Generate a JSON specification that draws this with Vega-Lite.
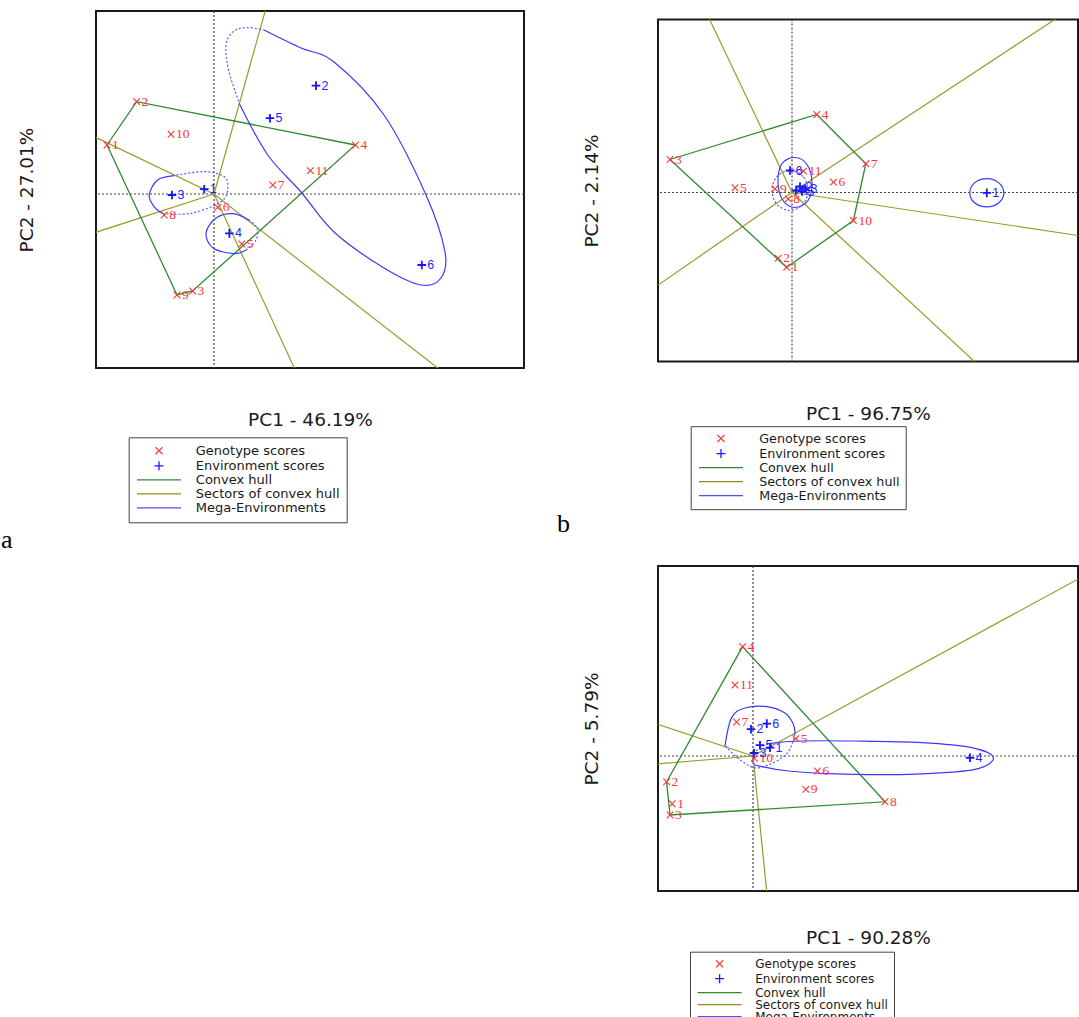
{
"$schema":"https://vega.github.io/schema/vega-lite/v6.json",
"padding":{"left":0,"top":7,"right":0,"bottom":0},
"background":"white",
"config":{
 "view":{"stroke":"#1a1a1a","strokeWidth":2},
 "axis":{"labels":false,"ticks":false,"domain":false,"grid":false,"titleFont":"DejaVu Sans","titleFontSize":18.5,"titleFontWeight":"normal","titleColor":"#1a1a1a"},
 "axisX":{"titlePadding":44},
 "axisY":{"titlePadding":57},
 "legend":{"strokeColor":"#444444","strokeWidth":1,"symbolSize":100,"symbolStrokeWidth":1.3,"labelFont":"DejaVu Sans","labelColor":"#1a1a1a","symbolOpacity":1,"direction":"vertical","labelLimit":300,"rowPadding":0}
},
"spacing":31,
"resolve":{"scale":{"x":"independent","y":"independent","color":"independent","shape":"independent"},"legend":{"color":"independent","shape":"independent"}},
"hconcat":[
{
"width":428,"height":357,
"title":{"text":"a","orient":"bottom","anchor":"start","frame":"group","dx":-95,"offset":25,"font":"Liberation Serif","fontSize":26,"fontWeight":"normal","color":"#000000","baseline":"alphabetic"},
"layer":[
{"data":{"values":[{"x":0}]},"mark":{"type":"rule","color":"#444444","strokeDash":[2,2],"strokeWidth":1.2},"encoding":{"x":{"field":"x","type":"quantitative","scale":{"domain":[-5.9,15.5],"nice":false,"zero":false},"title":"PC1 - 46.19%","axis":{"titlePadding":42}}}},
{"data":{"values":[{"y":0}]},"mark":{"type":"rule","color":"#444444","strokeDash":[2,2],"strokeWidth":1.2},"encoding":{"y":{"field":"y","type":"quantitative","scale":{"domain":[-8.7,9.15],"nice":false,"zero":false},"title":"PC2 - 27.01%","axis":{"titlePadding":60}}}},
{"data":{"values":[{"s":1,"i":0,"x":0,"y":0},{"s":1,"i":1,"x":2.8,"y":10.0},{"s":2,"i":0,"x":0,"y":0},{"s":2,"i":1,"x":-6.2,"y":2.97},{"s":3,"i":0,"x":0,"y":0},{"s":3,"i":1,"x":-6.2,"y":-2.01},{"s":4,"i":0,"x":0,"y":0},{"s":4,"i":1,"x":4.2,"y":-9.1},{"s":5,"i":0,"x":0,"y":0},{"s":5,"i":1,"x":11.7,"y":-9.1}]},
 "mark":{"type":"line","color":"#9a9a2a","strokeWidth":1.2,"clip":true},
 "encoding":{"x":{"field":"x","type":"quantitative","scale":{"domain":[-5.9,15.5],"nice":false,"zero":false},"title":"PC1 - 46.19%"},"y":{"field":"y","type":"quantitative","scale":{"domain":[-8.7,9.15],"nice":false,"zero":false},"title":"PC2 - 27.01%"},"detail":{"field":"s"},"order":{"field":"i","type":"quantitative"}}},
{"data":{"values":[{"i":1,"x":-5.35,"y":2.45},{"i":2,"x":-3.87,"y":4.62},{"i":3,"x":7.07,"y":2.45},{"i":4,"x":-1.07,"y":-4.85},{"i":5,"x":-1.85,"y":-5.05},{"i":6,"x":-5.35,"y":2.45}]},
 "mark":{"type":"line","color":"#2e8b2e","strokeWidth":1.3,"clip":true},
 "encoding":{"x":{"field":"x","type":"quantitative","scale":{"domain":[-5.9,15.5],"nice":false,"zero":false},"title":"PC1 - 46.19%"},"y":{"field":"y","type":"quantitative","scale":{"domain":[-8.7,9.15],"nice":false,"zero":false},"title":"PC2 - 27.01%"},"order":{"field":"i","type":"quantitative"}}},
{"data":{"values":[
 {"arc":"A1","i":1,"x":2.5,"y":8.2},{"arc":"A1","i":2,"x":4.35,"y":7.3},{"arc":"A1","i":3,"x":6.0,"y":6.6},{"arc":"A1","i":4,"x":8.5,"y":3.95},{"arc":"A1","i":5,"x":10.6,"y":-0.05},{"arc":"A1","i":6,"x":11.55,"y":-2.9},{"arc":"A1","i":7,"x":11.35,"y":-4.2},{"arc":"A1","i":8,"x":10.35,"y":-4.55},{"arc":"A1","i":9,"x":8.5,"y":-3.7},{"arc":"A1","i":10,"x":6.0,"y":-1.9},{"arc":"A1","i":11,"x":4.35,"y":0.1},{"arc":"A1","i":12,"x":2.69,"y":1.95},{"arc":"A1","i":13,"x":1.3,"y":4.45},
 {"arc":"A2","i":1,"x":-1.99,"y":0.92},{"arc":"A2","i":2,"x":-2.82,"y":0.7},{"arc":"A2","i":3,"x":-3.24,"y":-0.05},{"arc":"A2","i":4,"x":-2.99,"y":-0.64},{"arc":"A2","i":5,"x":-2.57,"y":-0.97},
 {"arc":"A3","i":1,"x":1.75,"y":-1.3},{"arc":"A3","i":2,"x":0.95,"y":-0.98},{"arc":"A3","i":3,"x":0.1,"y":-1.2},{"arc":"A3","i":4,"x":-0.4,"y":-1.95},{"arc":"A3","i":5,"x":-0.05,"y":-2.7},{"arc":"A3","i":6,"x":1.0,"y":-2.98},{"arc":"A3","i":7,"x":1.6,"y":-2.8}]},
 "mark":{"type":"line","interpolate":"cardinal","color":"#3a3aff","strokeWidth":1.2,"clip":true},
 "encoding":{"x":{"field":"x","type":"quantitative","scale":{"domain":[-5.9,15.5],"nice":false,"zero":false},"title":"PC1 - 46.19%"},"y":{"field":"y","type":"quantitative","scale":{"domain":[-8.7,9.15],"nice":false,"zero":false},"title":"PC2 - 27.01%"},"detail":{"field":"arc"},"order":{"field":"i","type":"quantitative"}}},
{"data":{"values":[
 {"arc":"D1","i":1,"x":1.3,"y":4.45},{"arc":"D1","i":2,"x":0.75,"y":6.12},{"arc":"D1","i":3,"x":0.6,"y":7.45},{"arc":"D1","i":4,"x":1.0,"y":8.15},{"arc":"D1","i":5,"x":1.69,"y":8.32},{"arc":"D1","i":6,"x":2.5,"y":8.2},
 {"arc":"D2","i":1,"x":-2.57,"y":-0.97},{"arc":"D2","i":2,"x":-1.15,"y":-0.97},{"arc":"D2","i":3,"x":0.35,"y":-0.39},{"arc":"D2","i":4,"x":0.69,"y":0.29},{"arc":"D2","i":5,"x":0.5,"y":0.87},{"arc":"D2","i":6,"x":-0.49,"y":1.12},{"arc":"D2","i":7,"x":-1.99,"y":0.92},
 {"arc":"D3","i":1,"x":1.6,"y":-2.8},{"arc":"D3","i":2,"x":2.1,"y":-2.3},{"arc":"D3","i":3,"x":2.15,"y":-1.7},{"arc":"D3","i":4,"x":1.75,"y":-1.3}]},
 "mark":{"type":"line","interpolate":"cardinal","color":"#5a5aff","strokeWidth":1.2,"strokeDash":[2,2],"clip":true},
 "encoding":{"x":{"field":"x","type":"quantitative","scale":{"domain":[-5.9,15.5],"nice":false,"zero":false},"title":"PC1 - 46.19%"},"y":{"field":"y","type":"quantitative","scale":{"domain":[-8.7,9.15],"nice":false,"zero":false},"title":"PC2 - 27.01%"},"detail":{"field":"arc"},"order":{"field":"i","type":"quantitative"}}},
{"data":{"values":[{"g":"1","x":-5.35,"y":2.45},{"g":"2","x":-3.87,"y":4.62},{"g":"3","x":-1.07,"y":-4.85},{"g":"4","x":7.07,"y":2.45},{"g":"5","x":1.39,"y":-2.5},{"g":"6","x":0.19,"y":-0.67},{"g":"7","x":2.94,"y":0.45},{"g":"8","x":-2.49,"y":-1.05},{"g":"9","x":-1.85,"y":-5.05},{"g":"10","x":-2.15,"y":2.99},{"g":"11","x":4.82,"y":1.17}]},
 "mark":{"type":"point","shape":"M-1,-1L1,1M-1,1L1,-1","size":44,"filled":false,"color":"#ff3333","strokeWidth":1.1,"opacity":1,"clip":true},
 "encoding":{"x":{"field":"x","type":"quantitative","scale":{"domain":[-5.9,15.5],"nice":false,"zero":false},"title":"PC1 - 46.19%"},"y":{"field":"y","type":"quantitative","scale":{"domain":[-8.7,9.15],"nice":false,"zero":false},"title":"PC2 - 27.01%"}}},
{"data":{"values":[{"g":"1","x":-5.35,"y":2.45},{"g":"2","x":-3.87,"y":4.62},{"g":"3","x":-1.07,"y":-4.85},{"g":"4","x":7.07,"y":2.45},{"g":"5","x":1.39,"y":-2.5},{"g":"6","x":0.19,"y":-0.67},{"g":"7","x":2.94,"y":0.45},{"g":"8","x":-2.49,"y":-1.05},{"g":"9","x":-1.85,"y":-5.05},{"g":"10","x":-2.15,"y":2.99},{"g":"11","x":4.82,"y":1.17}]},
 "mark":{"type":"text","align":"left","baseline":"middle","dx":5,"font":"Liberation Serif","fontSize":13.5,"color":"#ff3333"},
 "encoding":{"x":{"field":"x","type":"quantitative","scale":{"domain":[-5.9,15.5],"nice":false,"zero":false},"title":"PC1 - 46.19%"},"y":{"field":"y","type":"quantitative","scale":{"domain":[-8.7,9.15],"nice":false,"zero":false},"title":"PC2 - 27.01%"},"text":{"field":"g"}}},
{"data":{"values":[{"e":"1","x":-0.49,"y":0.24},{"e":"2","x":5.1,"y":5.42},{"e":"3","x":-2.1,"y":-0.05},{"e":"4","x":0.77,"y":-1.97},{"e":"5","x":2.8,"y":3.79},{"e":"6","x":10.39,"y":-3.55}]},
 "mark":{"type":"point","shape":"M-1,0L1,0M0,-1L0,1","size":74,"filled":false,"color":"#1414ff","strokeWidth":1.8,"opacity":1,"clip":true},
 "encoding":{"x":{"field":"x","type":"quantitative","scale":{"domain":[-5.9,15.5],"nice":false,"zero":false},"title":"PC1 - 46.19%"},"y":{"field":"y","type":"quantitative","scale":{"domain":[-8.7,9.15],"nice":false,"zero":false},"title":"PC2 - 27.01%"}}},
{"data":{"values":[{"e":"1","x":-0.49,"y":0.24},{"e":"2","x":5.1,"y":5.42},{"e":"3","x":-2.1,"y":-0.05},{"e":"4","x":0.77,"y":-1.97},{"e":"5","x":2.8,"y":3.79},{"e":"6","x":10.39,"y":-3.55}]},
 "mark":{"type":"text","align":"left","baseline":"middle","dx":5.5,"font":"Liberation Sans","fontSize":12.5,"color":"#1f1fff"},
 "encoding":{"x":{"field":"x","type":"quantitative","scale":{"domain":[-5.9,15.5],"nice":false,"zero":false},"title":"PC1 - 46.19%"},"y":{"field":"y","type":"quantitative","scale":{"domain":[-8.7,9.15],"nice":false,"zero":false},"title":"PC2 - 27.01%"},"text":{"field":"e"}}},
{"data":{"values":[{"series":"Genotype scores"},{"series":"Environment scores"},{"series":"Convex hull"},{"series":"Sectors of convex hull"},{"series":"Mega-Environments"}]},
 "transform":[{"filter":"false"}],
 "mark":{"type":"point","filled":false,"opacity":1},
 "encoding":{
  "color":{"field":"series","type":"nominal","scale":{"domain":["Genotype scores","Environment scores","Convex hull","Sectors of convex hull","Mega-Environments"],"range":["#ff4040","#1a1aff","#2e8b2e","#8f8f20","#4d4dff"]},"legend":{"title":null,"orient":"none","legendX":32.7,"legendY":426.3,"padding":7,"symbolOffset":16.8,"labelOffset":30.3,"labelFontSize":13,"rowPadding":0}},
  "shape":{"field":"series","type":"nominal","scale":{"domain":["Genotype scores","Environment scores","Convex hull","Sectors of convex hull","Mega-Environments"],"range":["M-0.7,-0.7L0.7,0.7M-0.7,0.7L0.7,-0.7","M-0.9,0L0.9,0M0,-0.9L0,0.9","M-4.4,0L4.4,0","M-4.4,0L4.4,0","M-4.4,0L4.4,0"]},"legend":{"title":null,"orient":"none","legendX":32.7,"legendY":426.3,"padding":7,"symbolOffset":16.8,"labelOffset":30.3,"labelFontSize":13,"rowPadding":0}}
 }}
]
},
{
"spacing":27,
"resolve":{"scale":{"x":"independent","y":"independent","color":"independent","shape":"independent"},"legend":{"color":"independent","shape":"independent"}},
"vconcat":[
{
"spacing":1.5,
"resolve":{"scale":{"x":"independent","y":"independent","color":"independent","shape":"independent"},"legend":{"color":"independent","shape":"independent"}},
"vconcat":[
{"width":420,"height":1,"view":{"stroke":"transparent"},"data":{"values":[{"x":0}]},"mark":{"type":"point","opacity":0},"encoding":{"x":{"field":"x","type":"quantitative","axis":null}}},
{
"title":{"text":"b","orient":"bottom","anchor":"start","frame":"bounds","dx":-24,"offset":21,"font":"Liberation Serif","fontSize":26,"fontWeight":"normal","color":"#000000","baseline":"alphabetic"},
"resolve":{"scale":{"x":"independent","y":"independent","color":"independent","shape":"independent"},"legend":{"color":"independent","shape":"independent"}},
"vconcat":[
{
"width":420,"height":342,
"layer":[
{"data":{"values":[{"x":0}]},"mark":{"type":"rule","color":"#444444","strokeDash":[2,2],"strokeWidth":1.2},"encoding":{"x":{"field":"x","type":"quantitative","scale":{"domain":[-6.7,14.3],"nice":false,"zero":false},"title":"PC1 - 96.75%","axis":{"titlePadding":43}}}},
{"data":{"values":[{"y":0}]},"mark":{"type":"rule","color":"#444444","strokeDash":[2,2],"strokeWidth":1.2},"encoding":{"y":{"field":"y","type":"quantitative","scale":{"domain":[-8.45,8.65],"nice":false,"zero":false},"title":"PC2 - 2.14%"}}},
{"data":{"values":[{"s":1,"i":0,"x":0,"y":0},{"s":1,"i":1,"x":-4.3,"y":9.03},{"s":2,"i":0,"x":0,"y":0},{"s":2,"i":1,"x":13.72,"y":9.03},{"s":3,"i":0,"x":0,"y":0},{"s":3,"i":1,"x":15.03,"y":-2.26},{"s":4,"i":0,"x":0,"y":0},{"s":4,"i":1,"x":9.52,"y":-8.82},{"s":5,"i":0,"x":0,"y":0},{"s":5,"i":1,"x":-6.93,"y":-4.79}]},
 "mark":{"type":"line","color":"#9a9a2a","strokeWidth":1.2,"clip":true},
 "encoding":{"x":{"field":"x","type":"quantitative","scale":{"domain":[-6.7,14.3],"nice":false,"zero":false},"title":"PC1 - 96.75%"},"y":{"field":"y","type":"quantitative","scale":{"domain":[-8.45,8.65],"nice":false,"zero":false},"title":"PC2 - 2.14%"},"detail":{"field":"s"},"order":{"field":"i","type":"quantitative"}}},
{"data":{"values":[{"i":1,"x":-6.1,"y":1.65},{"i":2,"x":1.24,"y":3.9},{"i":3,"x":3.69,"y":1.44},{"i":4,"x":3.07,"y":-1.4},{"i":5,"x":-0.27,"y":-3.74},{"i":6,"x":-6.1,"y":1.65}]},
 "mark":{"type":"line","color":"#2e8b2e","strokeWidth":1.3,"clip":true},
 "encoding":{"x":{"field":"x","type":"quantitative","scale":{"domain":[-6.7,14.3],"nice":false,"zero":false},"title":"PC1 - 96.75%"},"y":{"field":"y","type":"quantitative","scale":{"domain":[-8.45,8.65],"nice":false,"zero":false},"title":"PC2 - 2.14%"},"order":{"field":"i","type":"quantitative"}}},
{"data":{"values":[
 {"arc":"B1","i":1,"x":10.59,"y":-0.02},{"arc":"B1","i":2,"x":10.34,"y":0.48},{"arc":"B1","i":3,"x":9.74,"y":0.69},{"arc":"B1","i":4,"x":9.13,"y":0.48},{"arc":"B1","i":5,"x":8.89,"y":-0.02},{"arc":"B1","i":6,"x":9.13,"y":-0.51},{"arc":"B1","i":7,"x":9.74,"y":-0.72},{"arc":"B1","i":8,"x":10.34,"y":-0.51},
 {"arc":"B2","i":1,"x":1.0,"y":0.5},{"arc":"B2","i":2,"x":0.75,"y":1.4},{"arc":"B2","i":3,"x":0.15,"y":1.75},{"arc":"B2","i":4,"x":-0.5,"y":1.45},{"arc":"B2","i":5,"x":-0.7,"y":0.5},{"arc":"B2","i":6,"x":-0.45,"y":-0.4},{"arc":"B2","i":7,"x":0.15,"y":-0.75},{"arc":"B2","i":8,"x":0.8,"y":-0.4}]},
 "mark":{"type":"line","interpolate":"cardinal-closed","color":"#3a3aff","strokeWidth":1.2,"clip":true},
 "encoding":{"x":{"field":"x","type":"quantitative","scale":{"domain":[-6.7,14.3],"nice":false,"zero":false},"title":"PC1 - 96.75%"},"y":{"field":"y","type":"quantitative","scale":{"domain":[-8.45,8.65],"nice":false,"zero":false},"title":"PC2 - 2.14%"},"detail":{"field":"arc"},"order":{"field":"i","type":"quantitative"}}},
{"data":{"values":[
 {"arc":"B3","i":1,"x":0.8,"y":0.1},{"arc":"B3","i":2,"x":0.55,"y":0.8},{"arc":"B3","i":3,"x":-0.1,"y":1.1},{"arc":"B3","i":4,"x":-0.75,"y":0.8},{"arc":"B3","i":5,"x":-1.0,"y":0.1},{"arc":"B3","i":6,"x":-0.75,"y":-0.6},{"arc":"B3","i":7,"x":-0.1,"y":-0.9},{"arc":"B3","i":8,"x":0.55,"y":-0.6}]},
 "mark":{"type":"line","interpolate":"cardinal-closed","color":"#5a5aff","strokeWidth":1.2,"strokeDash":[2,2],"clip":true},
 "encoding":{"x":{"field":"x","type":"quantitative","scale":{"domain":[-6.7,14.3],"nice":false,"zero":false},"title":"PC1 - 96.75%"},"y":{"field":"y","type":"quantitative","scale":{"domain":[-8.45,8.65],"nice":false,"zero":false},"title":"PC2 - 2.14%"},"detail":{"field":"arc"},"order":{"field":"i","type":"quantitative"}}},
{"data":{"values":[{"g":"1","x":-0.27,"y":-3.74},{"g":"2","x":-0.69,"y":-3.29},{"g":"3","x":-6.1,"y":1.65},{"g":"4","x":1.24,"y":3.9},{"g":"5","x":-2.85,"y":0.24},{"g":"6","x":2.07,"y":0.52},{"g":"7","x":3.69,"y":1.44},{"g":"8","x":-0.19,"y":-0.32},{"g":"9","x":-0.85,"y":0.19},{"g":"10","x":3.07,"y":-1.4},{"g":"11","x":0.57,"y":1.07}]},
 "mark":{"type":"point","shape":"M-1,-1L1,1M-1,1L1,-1","size":44,"filled":false,"color":"#ff3333","strokeWidth":1.1,"opacity":1,"clip":true},
 "encoding":{"x":{"field":"x","type":"quantitative","scale":{"domain":[-6.7,14.3],"nice":false,"zero":false},"title":"PC1 - 96.75%"},"y":{"field":"y","type":"quantitative","scale":{"domain":[-8.45,8.65],"nice":false,"zero":false},"title":"PC2 - 2.14%"}}},
{"data":{"values":[{"g":"1","x":-0.27,"y":-3.74},{"g":"2","x":-0.69,"y":-3.29},{"g":"3","x":-6.1,"y":1.65},{"g":"4","x":1.24,"y":3.9},{"g":"5","x":-2.85,"y":0.24},{"g":"6","x":2.07,"y":0.52},{"g":"7","x":3.69,"y":1.44},{"g":"8","x":-0.19,"y":-0.32},{"g":"9","x":-0.85,"y":0.19},{"g":"10","x":3.07,"y":-1.4},{"g":"11","x":0.57,"y":1.07}]},
 "mark":{"type":"text","align":"left","baseline":"middle","dx":5,"font":"Liberation Serif","fontSize":13.5,"color":"#ff3333"},
 "encoding":{"x":{"field":"x","type":"quantitative","scale":{"domain":[-6.7,14.3],"nice":false,"zero":false},"title":"PC1 - 96.75%"},"y":{"field":"y","type":"quantitative","scale":{"domain":[-8.45,8.65],"nice":false,"zero":false},"title":"PC2 - 2.14%"},"text":{"field":"g"}}},
{"data":{"values":[{"e":"1","x":9.74,"y":-0.02},{"e":"2","x":0.4,"y":0.3},{"e":"3","x":0.65,"y":0.2},{"e":"4","x":0.2,"y":0.1},{"e":"5","x":0.5,"y":0.05},{"e":"6","x":-0.1,"y":1.1}]},
 "mark":{"type":"point","shape":"M-1,0L1,0M0,-1L0,1","size":74,"filled":false,"color":"#1414ff","strokeWidth":1.8,"opacity":1,"clip":true},
 "encoding":{"x":{"field":"x","type":"quantitative","scale":{"domain":[-6.7,14.3],"nice":false,"zero":false},"title":"PC1 - 96.75%"},"y":{"field":"y","type":"quantitative","scale":{"domain":[-8.45,8.65],"nice":false,"zero":false},"title":"PC2 - 2.14%"}}},
{"data":{"values":[{"e":"1","x":9.74,"y":-0.02},{"e":"2","x":0.4,"y":0.3},{"e":"3","x":0.65,"y":0.2},{"e":"4","x":0.2,"y":0.1},{"e":"5","x":0.5,"y":0.05},{"e":"6","x":-0.1,"y":1.1}]},
 "mark":{"type":"text","align":"left","baseline":"middle","dx":5.5,"font":"Liberation Sans","fontSize":12.5,"color":"#1f1fff"},
 "encoding":{"x":{"field":"x","type":"quantitative","scale":{"domain":[-6.7,14.3],"nice":false,"zero":false},"title":"PC1 - 96.75%"},"y":{"field":"y","type":"quantitative","scale":{"domain":[-8.45,8.65],"nice":false,"zero":false},"title":"PC2 - 2.14%"},"text":{"field":"e"}}},
{"data":{"values":[{"series":"Genotype scores"},{"series":"Environment scores"},{"series":"Convex hull"},{"series":"Sectors of convex hull"},{"series":"Mega-Environments"}]},
 "transform":[{"filter":"false"}],
 "mark":{"type":"point","filled":false,"opacity":1},
 "encoding":{
  "color":{"field":"series","type":"nominal","scale":{"domain":["Genotype scores","Environment scores","Convex hull","Sectors of convex hull","Mega-Environments"],"range":["#ff4040","#1a1aff","#2e8b2e","#8f8f20","#4d4dff"]},"legend":{"title":null,"orient":"none","legendX":32.7,"legendY":406.7,"padding":6,"symbolOffset":17.95,"labelOffset":31.9,"labelFontSize":12.7,"rowPadding":0}},
  "shape":{"field":"series","type":"nominal","scale":{"domain":["Genotype scores","Environment scores","Convex hull","Sectors of convex hull","Mega-Environments"],"range":["M-0.7,-0.7L0.7,0.7M-0.7,0.7L0.7,-0.7","M-0.9,0L0.9,0M0,-0.9L0,0.9","M-4.4,0L4.4,0","M-4.4,0L4.4,0","M-4.4,0L4.4,0"]},"legend":{"title":null,"orient":"none","legendX":32.7,"legendY":406.7,"padding":6,"symbolOffset":17.95,"labelOffset":31.9,"labelFontSize":12.7,"rowPadding":0}}
 }}
]
}
]
}
]
},
{
"width":420,"height":325,
"layer":[
{"data":{"values":[{"x":0}]},"mark":{"type":"rule","color":"#444444","strokeDash":[2,2],"strokeWidth":1.2},"encoding":{"x":{"field":"x","type":"quantitative","scale":{"domain":[-4.75,16.25],"nice":false,"zero":false},"title":"PC1 - 90.28%","axis":{"titlePadding":37}}}},
{"data":{"values":[{"y":0}]},"mark":{"type":"rule","color":"#444444","strokeDash":[2,2],"strokeWidth":1.2},"encoding":{"y":{"field":"y","type":"quantitative","scale":{"domain":[-6.75,9.5],"nice":false,"zero":false},"title":"PC2 - 5.79%"}}},
{"data":{"values":[{"s":1,"i":0,"x":0,"y":0},{"s":1,"i":1,"x":16.5,"y":8.98},{"s":2,"i":0,"x":0,"y":0},{"s":2,"i":1,"x":-5.0,"y":1.67},{"s":3,"i":0,"x":0,"y":0},{"s":3,"i":1,"x":-5.0,"y":-0.41},{"s":4,"i":0,"x":0,"y":0},{"s":4,"i":1,"x":0.72,"y":-7.1}]},
 "mark":{"type":"line","color":"#9a9a2a","strokeWidth":1.2,"clip":true},
 "encoding":{"x":{"field":"x","type":"quantitative","scale":{"domain":[-4.75,16.25],"nice":false,"zero":false},"title":"PC1 - 90.28%"},"y":{"field":"y","type":"quantitative","scale":{"domain":[-6.75,9.5],"nice":false,"zero":false},"title":"PC2 - 5.79%"},"detail":{"field":"s"},"order":{"field":"i","type":"quantitative"}}},
{"data":{"values":[{"i":1,"x":-0.52,"y":5.47},{"i":2,"x":6.6,"y":-2.29},{"i":3,"x":-4.15,"y":-2.95},{"i":4,"x":-4.32,"y":-1.29},{"i":5,"x":-0.52,"y":5.47}]},
 "mark":{"type":"line","color":"#2e8b2e","strokeWidth":1.3,"clip":true},
 "encoding":{"x":{"field":"x","type":"quantitative","scale":{"domain":[-4.75,16.25],"nice":false,"zero":false},"title":"PC1 - 90.28%"},"y":{"field":"y","type":"quantitative","scale":{"domain":[-6.75,9.5],"nice":false,"zero":false},"title":"PC2 - 5.79%"},"order":{"field":"i","type":"quantitative"}}},
{"data":{"values":[
 {"arc":"C1","i":1,"x":-1.4,"y":0.5},{"arc":"C1","i":2,"x":-1.07,"y":1.92},{"arc":"C1","i":3,"x":-0.4,"y":2.4},{"arc":"C1","i":4,"x":0.69,"y":2.47},{"arc":"C1","i":5,"x":1.6,"y":2.15},{"arc":"C1","i":6,"x":2.02,"y":1.59},{"arc":"C1","i":7,"x":2.1,"y":1.1},
 {"arc":"C2","i":1,"x":0.77,"y":0.62},{"arc":"C2","i":2,"x":2.35,"y":0.75},{"arc":"C2","i":3,"x":5.1,"y":0.75},{"arc":"C2","i":4,"x":8.44,"y":0.67},{"arc":"C2","i":5,"x":10.94,"y":0.42},{"arc":"C2","i":6,"x":12.02,"y":-0.09},{"arc":"C2","i":7,"x":11.1,"y":-0.67},{"arc":"C2","i":8,"x":8.44,"y":-0.89},{"arc":"C2","i":9,"x":5.1,"y":-0.92},{"arc":"C2","i":10,"x":1.77,"y":-0.75},{"arc":"C2","i":11,"x":0.1,"y":-0.45}]},
 "mark":{"type":"line","interpolate":"cardinal","color":"#3a3aff","strokeWidth":1.2,"clip":true},
 "encoding":{"x":{"field":"x","type":"quantitative","scale":{"domain":[-4.75,16.25],"nice":false,"zero":false},"title":"PC1 - 90.28%"},"y":{"field":"y","type":"quantitative","scale":{"domain":[-6.75,9.5],"nice":false,"zero":false},"title":"PC2 - 5.79%"},"detail":{"field":"arc"},"order":{"field":"i","type":"quantitative"}}},
{"data":{"values":[
 {"arc":"E1","i":1,"x":2.1,"y":1.1},{"arc":"E1","i":2,"x":1.85,"y":0.35},{"arc":"E1","i":3,"x":1.44,"y":-0.09},{"arc":"E1","i":4,"x":0.75,"y":-0.45},{"arc":"E1","i":5,"x":0.1,"y":-0.59},{"arc":"E1","i":6,"x":-0.57,"y":-0.25},{"arc":"E1","i":7,"x":-1.4,"y":0.5},
 {"arc":"E2","i":1,"x":0.1,"y":-0.45},{"arc":"E2","i":2,"x":-0.05,"y":-0.15},{"arc":"E2","i":3,"x":0.25,"y":0.35},{"arc":"E2","i":4,"x":0.77,"y":0.62}]},
 "mark":{"type":"line","interpolate":"cardinal","color":"#5a5aff","strokeWidth":1.2,"strokeDash":[2,2],"clip":true},
 "encoding":{"x":{"field":"x","type":"quantitative","scale":{"domain":[-4.75,16.25],"nice":false,"zero":false},"title":"PC1 - 90.28%"},"y":{"field":"y","type":"quantitative","scale":{"domain":[-6.75,9.5],"nice":false,"zero":false},"title":"PC2 - 5.79%"},"detail":{"field":"arc"},"order":{"field":"i","type":"quantitative"}}},
{"data":{"values":[{"g":"1","x":-4.04,"y":-2.39},{"g":"2","x":-4.32,"y":-1.29},{"g":"3","x":-4.15,"y":-2.95},{"g":"4","x":-0.52,"y":5.47},{"g":"5","x":2.14,"y":0.87},{"g":"6","x":3.22,"y":-0.75},{"g":"7","x":-0.82,"y":1.7},{"g":"8","x":6.6,"y":-2.29},{"g":"9","x":2.64,"y":-1.67},{"g":"10","x":0.07,"y":-0.12},{"g":"11","x":-0.9,"y":3.55}]},
 "mark":{"type":"point","shape":"M-1,-1L1,1M-1,1L1,-1","size":44,"filled":false,"color":"#ff3333","strokeWidth":1.1,"opacity":1,"clip":true},
 "encoding":{"x":{"field":"x","type":"quantitative","scale":{"domain":[-4.75,16.25],"nice":false,"zero":false},"title":"PC1 - 90.28%"},"y":{"field":"y","type":"quantitative","scale":{"domain":[-6.75,9.5],"nice":false,"zero":false},"title":"PC2 - 5.79%"}}},
{"data":{"values":[{"g":"1","x":-4.04,"y":-2.39},{"g":"2","x":-4.32,"y":-1.29},{"g":"3","x":-4.15,"y":-2.95},{"g":"4","x":-0.52,"y":5.47},{"g":"5","x":2.14,"y":0.87},{"g":"6","x":3.22,"y":-0.75},{"g":"7","x":-0.82,"y":1.7},{"g":"8","x":6.6,"y":-2.29},{"g":"9","x":2.64,"y":-1.67},{"g":"10","x":0.07,"y":-0.12},{"g":"11","x":-0.9,"y":3.55}]},
 "mark":{"type":"text","align":"left","baseline":"middle","dx":5,"font":"Liberation Serif","fontSize":13.5,"color":"#ff3333"},
 "encoding":{"x":{"field":"x","type":"quantitative","scale":{"domain":[-4.75,16.25],"nice":false,"zero":false},"title":"PC1 - 90.28%"},"y":{"field":"y","type":"quantitative","scale":{"domain":[-6.75,9.5],"nice":false,"zero":false},"title":"PC2 - 5.79%"},"text":{"field":"g"}}},
{"data":{"values":[{"e":"1","x":0.85,"y":0.42},{"e":"2","x":-0.1,"y":1.34},{"e":"3","x":0.05,"y":0.15},{"e":"4","x":10.85,"y":-0.09},{"e":"5","x":0.35,"y":0.54},{"e":"6","x":0.69,"y":1.62}]},
 "mark":{"type":"point","shape":"M-1,0L1,0M0,-1L0,1","size":74,"filled":false,"color":"#1414ff","strokeWidth":1.8,"opacity":1,"clip":true},
 "encoding":{"x":{"field":"x","type":"quantitative","scale":{"domain":[-4.75,16.25],"nice":false,"zero":false},"title":"PC1 - 90.28%"},"y":{"field":"y","type":"quantitative","scale":{"domain":[-6.75,9.5],"nice":false,"zero":false},"title":"PC2 - 5.79%"}}},
{"data":{"values":[{"e":"1","x":0.85,"y":0.42},{"e":"2","x":-0.1,"y":1.34},{"e":"3","x":0.05,"y":0.15},{"e":"4","x":10.85,"y":-0.09},{"e":"5","x":0.35,"y":0.54},{"e":"6","x":0.69,"y":1.62}]},
 "mark":{"type":"text","align":"left","baseline":"middle","dx":5.5,"font":"Liberation Sans","fontSize":12.5,"color":"#1f1fff"},
 "encoding":{"x":{"field":"x","type":"quantitative","scale":{"domain":[-4.75,16.25],"nice":false,"zero":false},"title":"PC1 - 90.28%"},"y":{"field":"y","type":"quantitative","scale":{"domain":[-6.75,9.5],"nice":false,"zero":false},"title":"PC2 - 5.79%"},"text":{"field":"e"}}},
{"data":{"values":[{"series":"Genotype scores"},{"series":"Environment scores"},{"series":"Convex hull"},{"series":"Sectors of convex hull"},{"series":"Mega-Environments"}]},
 "transform":[{"filter":"false"}],
 "mark":{"type":"point","filled":false,"opacity":1},
 "encoding":{
  "color":{"field":"series","type":"nominal","scale":{"domain":["Genotype scores","Environment scores","Convex hull","Sectors of convex hull","Mega-Environments"],"range":["#ff4040","#1a1aff","#2e8b2e","#8f8f20","#4d4dff"]},"legend":{"title":null,"orient":"none","legendX":32,"legendY":385.7,"padding":6,"symbolOffset":17.6,"labelOffset":29.6,"labelFontSize":12,"rowPadding":0}},
  "shape":{"field":"series","type":"nominal","scale":{"domain":["Genotype scores","Environment scores","Convex hull","Sectors of convex hull","Mega-Environments"],"range":["M-0.7,-0.7L0.7,0.7M-0.7,0.7L0.7,-0.7","M-0.9,0L0.9,0M0,-0.9L0,0.9","M-4.4,0L4.4,0","M-4.4,0L4.4,0","M-4.4,0L4.4,0"]},"legend":{"title":null,"orient":"none","legendX":32,"legendY":385.7,"padding":6,"symbolOffset":17.6,"labelOffset":29.6,"labelFontSize":12,"rowPadding":0}}
 }}
]
}
]
}
]
}
